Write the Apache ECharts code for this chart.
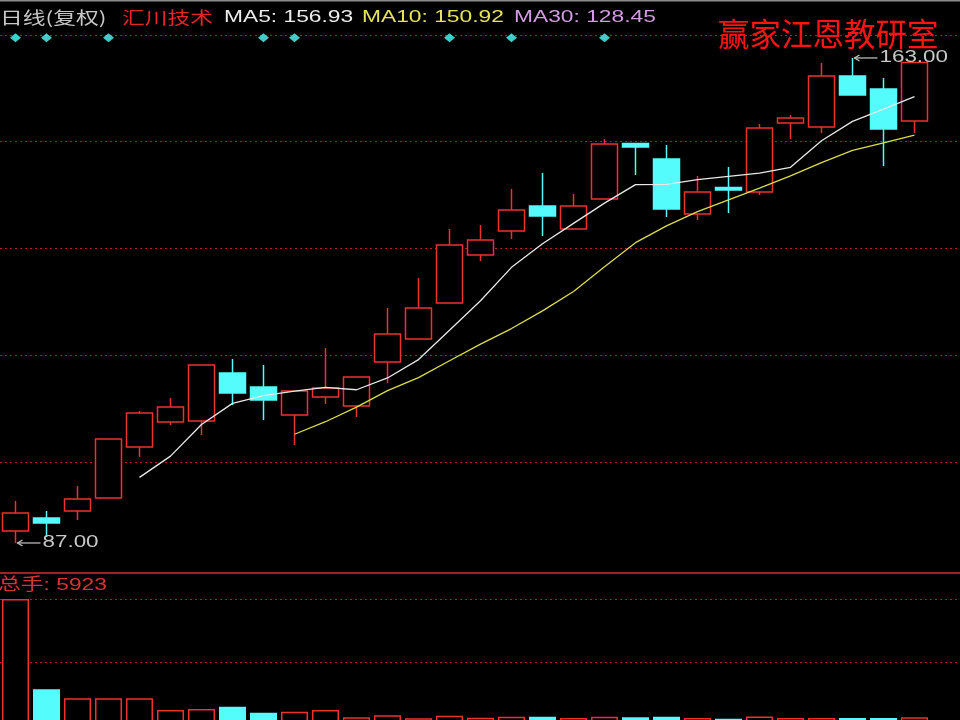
<!DOCTYPE html>
<html>
<head>
<meta charset="utf-8">
<script src="https://cdn.jsdelivr.net/npm/echarts@6/dist/echarts.min.js"></script>
<style>
  html, body { margin: 0; padding: 0; background: #000; }
  #chart { width: 960px; height: 720px; }
</style>
</head>
<body>
<div id="chart"></div>
<script>
// 汇川技术 daily bars (adjusted), 30 sessions
const days = ['1','2','3','4','5','6','7','8','9','10','11','12','13','14','15',
              '16','17','18','19','20','21','22','23','24','25','26','27','28','29','30'];
const opens  = [88.89, 90.92, 92.02, 94.06, 102.05, 105.96, 106.12, 113.64, 111.45, 107.06,
                109.88, 108.47, 115.37, 118.97, 124.61, 132.13, 135.89, 139.81, 136.21, 140.91,
                149.60, 147.17, 138.56, 142.71, 142.00, 152.81, 152.19, 160.18, 158.14, 153.13];
const closes = [91.71, 90.14, 93.90, 103.30, 107.37, 108.32, 114.90, 110.51, 109.41, 110.82,
                111.29, 113.02, 119.75, 123.83, 133.70, 134.48, 139.18, 138.24, 139.81, 149.52,
                149.05, 139.34, 142.00, 142.32, 152.03, 153.60, 160.18, 157.20, 151.88, 162.30];
const lows   = [87.00, 87.95, 90.61, 94.00, 100.48, 105.49, 103.93, 108.63, 106.28, 102.36,
                108.79, 106.75, 112.08, 118.95, 124.60, 131.19, 134.64, 135.11, 136.20, 140.90,
                144.67, 138.09, 137.62, 138.71, 141.53, 150.31, 151.25, 157.20, 146.08, 151.25];
const highs  = [93.59, 92.02, 95.94, 103.40, 107.69, 109.73, 114.95, 115.84, 114.90, 110.85,
                117.56, 113.05, 123.83, 128.53, 136.21, 136.83, 142.47, 144.98, 141.69, 150.31,
                149.65, 149.37, 144.51, 145.92, 152.66, 154.07, 162.22, 163.00, 159.87, 162.35];
const volumes = [86500, 25000, 18900, 18900, 18900, 10900, 11600, 13100, 9100, 9700,
                 10900, 5900, 7300, 5200, 7000, 5700, 6300, 6300, 5400, 6300,
                 5900, 6300, 5400, 5000, 6400, 5500, 5500, 5400, 5400, 5923];
const ma5  = ['-', '-', '-', '-', 97.28, 100.61, 105.56, 108.88, 110.10, 110.79,
              111.39, 111.01, 112.86, 115.74, 120.32, 124.96, 130.19, 133.89, 137.08, 140.25,
              143.16, 143.19, 143.94, 144.45, 144.95, 145.86, 150.03, 153.07, 154.98, 156.93];
const ma10 = ['-', '-', '-', '-', '-', '-', '-', '-', '-', 104.04,
              106.00, 108.28, 110.87, 112.92, 115.56, 118.17, 120.60, 123.37, 126.41, 130.28,
              134.06, 136.69, 138.92, 140.76, 142.60, 144.51, 146.61, 148.51, 149.71, 150.92];
const ma30Last = 128.45;
// sessions flagged by the signal row (0-based)
const signalDays = [0, 1, 3, 8, 9, 14, 16, 19];

const RED = '#ee3030';
const CYAN = '#54fcfc';
const GRID_RED = '#b02222';
const ASCII_FONT = '"Liberation Sans", "Noto Sans CJK SC", sans-serif';
const CJK_FONT = '"Noto Sans CJK SC", sans-serif';

const candleData = opens.map((o, i) => [o, closes[i], lows[i], highs[i]]);
const volumeData = volumes.map((v, i) => {
  const up = closes[i] >= opens[i];
  return {
    value: v,
    itemStyle: up
      ? { color: '#000', borderColor: RED, borderWidth: 1.5 }
      : { color: CYAN, borderColor: CYAN, borderWidth: 1.5 }
  };
});

const chart = echarts.init(document.getElementById('chart'), null, { renderer: 'canvas' });

const dashedSplit = {
  show: true,
  showMinLine: false,
  lineStyle: { color: GRID_RED, width: 1, type: [2, 3] }
};

const option = {
  backgroundColor: '#000',
  animation: false,
  grid: [
    { left: 0, top: 35, width: 930, height: 533.5, outerBoundsMode: 'none' },   // price pane
    { left: 0, top: 35, right: 0, height: 533.5, outerBoundsMode: 'none' },     // price pane guides
    { left: 0, top: 599, width: 930, height: 127, outerBoundsMode: 'none' },    // volume pane (base below the fold)
    { left: 0, top: 599, right: 0, height: 126, outerBoundsMode: 'none' }       // volume pane guides
  ],
  xAxis: [
    { type: 'category', gridIndex: 0, data: days, boundaryGap: true, show: false },
    { type: 'value', gridIndex: 1, min: 0, max: 1, show: false },
    { type: 'category', gridIndex: 2, data: days, boundaryGap: true, show: false },
    { type: 'value', gridIndex: 3, min: 0, max: 1, show: false }
  ],
  yAxis: [
    { type: 'value', gridIndex: 0, min: 83.0, max: 166.6, show: false, splitLine: { show: false } },
    { type: 'value', gridIndex: 0, min: 0, max: 1, show: false, splitLine: { show: false } },
    { type: 'value', gridIndex: 1, min: 0, max: 5, interval: 1,
      axisLine: { show: false }, axisTick: { show: false }, axisLabel: { show: false },
      splitLine: dashedSplit },
    { type: 'value', gridIndex: 2, min: 0, max: 86500, show: false, splitLine: { show: false } },
    { type: 'value', gridIndex: 3, min: 0, max: 2, interval: 1,
      axisLine: { show: false }, axisTick: { show: false }, axisLabel: { show: false },
      splitLine: dashedSplit }
  ],
  series: [
    {
      name: 'K',
      type: 'candlestick',
      xAxisIndex: 0,
      yAxisIndex: 0,
      barWidth: 27,
      data: candleData,
      itemStyle: {
        color: '#000',
        color0: CYAN,
        borderColor: RED,
        borderColor0: CYAN,
        borderWidth: 1.5
      }
    },
    {
      name: 'MA5',
      type: 'line',
      xAxisIndex: 0,
      yAxisIndex: 0,
      data: ma5,
      showSymbol: false,
      symbol: 'none',
      lineStyle: { color: '#e8e8e8', width: 1.3 }
    },
    {
      name: 'MA10',
      type: 'line',
      xAxisIndex: 0,
      yAxisIndex: 0,
      data: ma10,
      showSymbol: false,
      symbol: 'none',
      lineStyle: { color: '#dcdc48', width: 1.3 }
    },
    {
      name: 'signal',
      type: 'scatter',
      xAxisIndex: 0,
      yAxisIndex: 1,
      symbol: 'diamond',
      symbolSize: [11, 9],
      itemStyle: { color: CYAN },
      data: signalDays.map(i => [i, 0.995])
    },
    {
      name: 'VOL',
      type: 'bar',
      xAxisIndex: 2,
      yAxisIndex: 3,
      barWidth: 27,
      data: volumeData
    }
  ]
};

chart.setOption(option);

// horizontally stretched text, like the terminal's bitmap font
function stretched(x, y, text, fill, font, sx) {
  return {
    type: 'text',
    x: x, y: y,
    scaleX: sx, scaleY: 1,
    silent: true,
    z: 100,
    style: {
      text: text, x: 0, y: 0, font: font, fill: fill,
      textAlign: 'left', textVerticalAlign: 'middle',
      align: 'left', verticalAlign: 'middle'
    }
  };
}

// price extreme callouts, placed from the data through the price axis
function extremeCallout(idx, price) {
  const p = chart.convertToPixel({ seriesIndex: 0 }, [idx, price]);
  const tipX = p[0] + 2, y = p[1];
  return [
    { type: 'polyline', silent: true, z: 100,
      shape: { points: [[tipX, y], [tipX + 23, y]] },
      style: { stroke: '#c8c8c8', lineWidth: 1.2, fill: null } },
    { type: 'polyline', silent: true, z: 100,
      shape: { points: [[tipX + 5, y - 3], [tipX, y], [tipX + 5, y + 3]] },
      style: { stroke: '#c8c8c8', lineWidth: 1.2, fill: null } },
    stretched(tipX + 25, y, price.toFixed(2), '#c8c8c8', '16px ' + ASCII_FONT, 1.4)
  ];
}

let iLow = 0, iHigh = 0;
lows.forEach((v, i) => { if (v < lows[iLow]) iLow = i; });
highs.forEach((v, i) => { if (v > highs[iHigh]) iHigh = i; });

const last = closes.length - 1;
const headFont = '17px ' + ASCII_FONT;
const cjkFont = '17px ' + CJK_FONT;

const graphics = [
  { type: 'rect', silent: true, z: 100, shape: { x: 0, y: 0, width: 960, height: 1.5 },
    style: { fill: '#8c8c8c' } },
  { type: 'line', silent: true, z: 100, shape: { x1: 0, y1: 573, x2: 960, y2: 573 },
    style: { stroke: '#a82020', lineWidth: 2 } },
  stretched(0, 17.5, '日线(复权)', '#c8c8c8', cjkFont, 1.34),
  stretched(122, 17.5, '汇川技术', '#e82424', cjkFont, 1.34),
  stretched(224, 17.5, 'MA5: ' + ma5[last].toFixed(2), '#ececec', headFont, 1.34),
  stretched(362, 17.5, 'MA10: ' + ma10[last].toFixed(2), '#e4e45a', headFont, 1.34),
  stretched(514, 17.5, 'MA30: ' + ma30Last.toFixed(2), '#d49ae4', headFont, 1.34),
  stretched(-2, 585.5, '总手: ' + volumes[last], '#d83434', headFont, 1.34),
  {
    type: 'text', x: 718, y: 34, silent: true, z: 100,
    style: {
      text: '赢家江恩教研室', x: 0, y: 0, font: '31.5px ' + CJK_FONT, fill: '#ff1414',
      textAlign: 'left', textVerticalAlign: 'middle', align: 'left', verticalAlign: 'middle'
    }
  }
].concat(extremeCallout(iLow, lows[iLow]), extremeCallout(iHigh, highs[iHigh]));

chart.setOption({ graphic: graphics });
</script>
</body>
</html>
